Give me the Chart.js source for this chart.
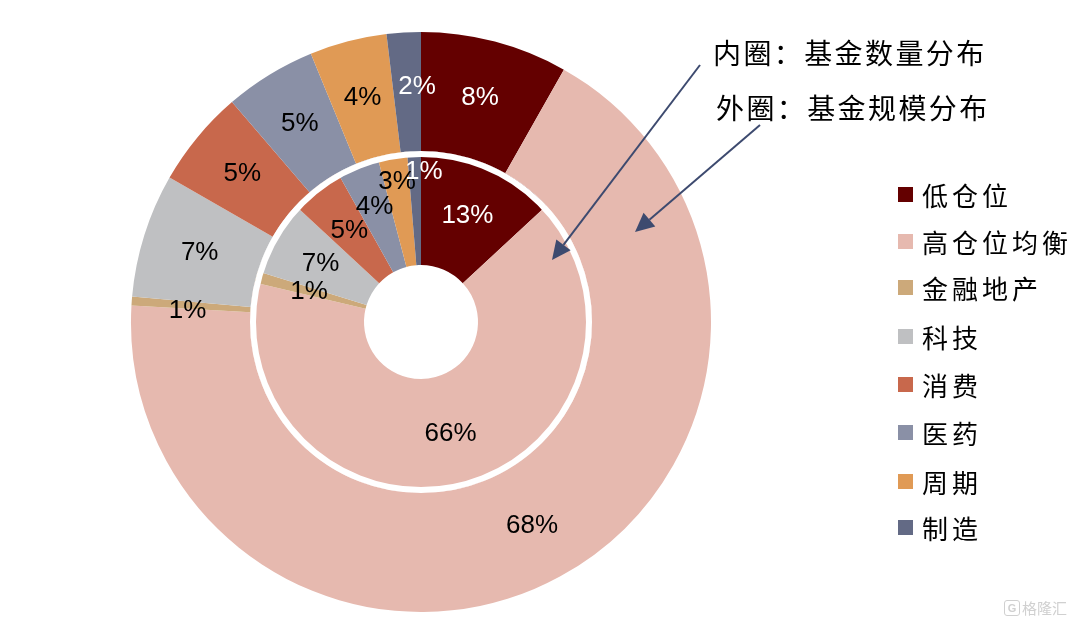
<!DOCTYPE html>
<html>
<head>
<meta charset="utf-8">
<script src="https://cdn.jsdelivr.net/npm/chart.js@4.4.1/dist/chart.umd.min.js"></script>
<style>
  html, body { margin: 0; padding: 0; background: #ffffff; }
  #wrap { position: relative; width: 1080px; height: 624px; overflow: hidden; background: #fff; }
  #c { position: absolute; left: 0; top: 0; }
  .note { position: absolute; font-family: "Noto Sans CJK SC", sans-serif; font-size: 28px; line-height: 28px; letter-spacing: 2.4px; color: #000; white-space: nowrap; }
  .leg { position: absolute; left: 898px; font-family: "Noto Sans CJK SC", sans-serif; font-size: 26px; line-height: 26px; letter-spacing: 4px; color: #000; white-space: nowrap; }
  .leg i { position: absolute; left: 0; top: 5px; width: 15px; height: 15px; }
  .leg span { position: absolute; left: 24px; top: 0; }
  #wm { position: absolute; left: 1004px; top: 600px; font-family: "Noto Sans CJK SC", sans-serif; font-size: 15px; line-height: 16px; color: #d0d0d0; white-space: nowrap; }
  #wm b { display: inline-block; width: 14px; height: 14px; border: 1.5px solid #d0d0d0; border-radius: 3px; font-size: 11px; line-height: 14px; text-align: center; font-weight: bold; margin-right: 2px; vertical-align: top; font-family: "Liberation Sans", sans-serif; }
</style>
</head>
<body>
<div id="wrap">
  <canvas id="c" width="1080" height="624"></canvas>
  <div class="note" style="left:713px; top:38px;">内圈：基金数量分布</div>
  <div class="note" style="left:716px; top:93px;">外圈：基金规模分布</div>
  <div id="legend"></div>
  <div id="wm"><b>G</b>格隆汇</div>
</div>
<script>
// ---- data ----
const categories = ["低仓位", "高仓位均衡", "金融地产", "科技", "消费", "医药", "周期", "制造"];
const outerValues = [8.2, 67.7, 0.5, 6.9, 5.4, 5.1, 4.3, 1.9];   // 外圈：基金规模分布 (%)
const innerValues = [13.1, 65.6, 1.1, 7.1, 5.0, 4.0, 2.8, 1.3];  // 内圈：基金数量分布 (%)
const colors = ["#640000", "#E6B9AF", "#CCA97A", "#BFC0C2", "#C8684C", "#8A90A6", "#E09A55", "#636A85"];
const darkSlices = [0, 7];

// label placement style (not data): radius per ring, and small nudges [dx, dy, dr]
const LABEL_RADIUS = [232, 116];
const LABEL_NUDGE = [
  { 2: [-2, 6, 0], 7: [10, -4, 0] },
  { 5: [0, 0, 8], 6: [0, 0, 26], 7: [9, 0, 34] }
];

// ---- legend (HTML) ----
const legendTops = [182, 229, 275, 324, 372, 420, 469, 515];
const legEl = document.getElementById('legend');
categories.forEach((name, i) => {
  const d = document.createElement('div');
  d.className = 'leg';
  d.style.top = legendTops[i] + 'px';
  d.innerHTML = '<i style="background:' + colors[i] + '"></i><span>' + name + '</span>';
  legEl.appendChild(d);
});

// ---- plugins ----
const whiteBand = {
  id: 'whiteBand',
  afterDatasetsDraw(chart) {
    const arc = chart.getDatasetMeta(1).data[0];
    if (!arc) return;
    const ctx = chart.ctx;
    ctx.save();
    ctx.beginPath();
    ctx.arc(arc.x, arc.y, 168, 0, Math.PI * 2);
    ctx.lineWidth = 6;
    ctx.strokeStyle = '#ffffff';
    ctx.stroke();
    ctx.restore();
  }
};

const sliceLabels = {
  id: 'sliceLabels',
  afterDatasetsDraw(chart) {
    const ctx = chart.ctx;
    ctx.save();
    ctx.font = '26px "Liberation Sans", Arial, sans-serif';
    ctx.textAlign = 'center';
    ctx.textBaseline = 'middle';
    chart.data.datasets.forEach((ds, di) => {
      const meta = chart.getDatasetMeta(di);
      const rad = LABEL_RADIUS[di];
      const nud = LABEL_NUDGE[di];
      meta.data.forEach((arc, i) => {
        const p = arc.getProps(['x', 'y', 'startAngle', 'endAngle'], true);
        const mid = (p.startAngle + p.endAngle) / 2;
        const n = Object.prototype.hasOwnProperty.call(nud, i) ? nud[i] : [0, 0, 0];
        const r = rad + n[2];
        const x = p.x + Math.cos(mid) * r + n[0];
        const y = p.y + Math.sin(mid) * r + n[1];
        ctx.fillStyle = darkSlices.includes(i) ? '#ffffff' : '#000000';
        ctx.fillText(Math.round(ds.data[i]) + '%', x, y);
      });
    });
    ctx.restore();
  }
};

const arrows = {
  id: 'arrows',
  afterDraw(chart) {
    const ctx = chart.ctx;
    const list = [[700, 65, 552, 260], [760, 125, 635, 232]];
    ctx.save();
    ctx.strokeStyle = '#3D4A6F';
    ctx.fillStyle = '#3D4A6F';
    ctx.lineWidth = 2;
    list.forEach(([x1, y1, x2, y2]) => {
      const a = Math.atan2(y2 - y1, x2 - x1);
      const L = 19, W = 9;
      const bx = x2 - Math.cos(a) * L, by = y2 - Math.sin(a) * L;
      ctx.beginPath();
      ctx.moveTo(x1, y1);
      ctx.lineTo(bx, by);
      ctx.stroke();
      ctx.beginPath();
      ctx.moveTo(x2, y2);
      ctx.lineTo(bx + Math.sin(a) * W, by - Math.cos(a) * W);
      ctx.lineTo(bx - Math.sin(a) * W, by + Math.cos(a) * W);
      ctx.closePath();
      ctx.fill();
    });
    ctx.restore();
  }
};

new Chart(document.getElementById('c'), {
  type: 'doughnut',
  data: {
    labels: categories,
    datasets: [
      { label: '外圈：基金规模分布', data: outerValues, backgroundColor: colors, weight: 119 },
      { label: '内圈：基金数量分布', data: innerValues, backgroundColor: colors, weight: 114 }
    ]
  },
  options: {
    responsive: false,
    animation: false,
    devicePixelRatio: 1,
    radius: 290,
    cutout: (57 / 290 * 100) + '%',
    borderWidth: 0,
    hoverOffset: 0,
    layout: { padding: { left: 0, right: 238, top: 20, bottom: 0 } },
    plugins: {
      legend: { display: false },
      tooltip: { enabled: false }
    },
    elements: { arc: { borderWidth: 0 } }
  },
  plugins: [whiteBand, sliceLabels, arrows]
});
</script>
</body>
</html>
